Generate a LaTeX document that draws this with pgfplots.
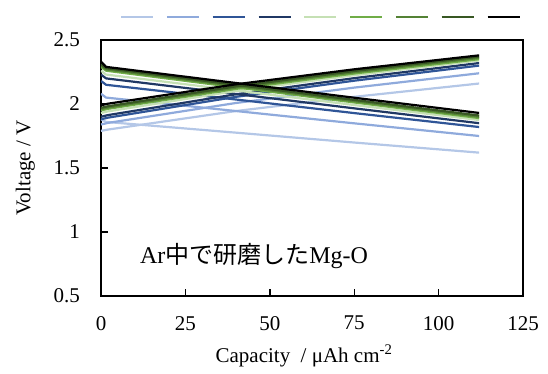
\documentclass[border=0pt]{standalone}
\usepackage{pgfplots}
\pgfplotsset{compat=1.18}
\usepackage{fontspec}
\setmainfont{Liberation Serif}
\newfontfamily\jp{Noto Sans CJK JP}
\definecolor{c1}{HTML}{B4C7E7}
\definecolor{c2}{HTML}{8FAADC}
\definecolor{c3}{HTML}{2F5597}
\definecolor{c4}{HTML}{203864}
\definecolor{c5}{HTML}{C5E0B4}
\definecolor{c6}{HTML}{70AD47}
\definecolor{c7}{HTML}{548235}
\definecolor{c8}{HTML}{385723}
\definecolor{c9}{HTML}{000000}
\begin{document}
\begin{tikzpicture}
\begin{axis}[
  scale only axis,
  width=422pt, height=256pt,
  xmin=0, xmax=125, ymin=0.5, ymax=2.5,
  xtick={0,25,50,75,100,125},
  ytick={0.5,1,1.5,2,2.5},
  tick align=inside,
  xtick pos=bottom, ytick pos=left,
  major tick length=7pt,
  axis line style={black, line width=1.6pt},
  every tick/.style={black, line width=1.4pt},
  /pgf/number format/assume math mode=true,
  tick label style={font=\fontsize{21}{25}\selectfont},
  xticklabel style={inner sep=0pt, anchor=north, yshift=-20pt},
  yticklabel style={inner sep=0pt, anchor=east, xshift=-21pt},
  xlabel={Capacity \ / μAh cm\textsuperscript{-2}},
  ylabel={Voltage / V},
  label style={font=\fontsize{21}{25}\selectfont},
  xlabel style={at={(axis description cs:0.5,0)}, anchor=north, inner sep=0pt, yshift=-49pt, xshift=-8pt},
  ylabel style={at={(axis description cs:0,0.5)}, anchor=south, inner sep=0pt, yshift=66pt},
  legend columns=9,
  legend style={draw=none, fill=none, inner sep=0pt, outer sep=0pt,
    at={(axis description cs:0,1)}, anchor=west, xshift=19pt, yshift=23pt,
    nodes={inner sep=0pt, outer sep=0pt},
    /tikz/every even column/.append style={column sep=10.6pt}},
  legend image code/.code={\draw[#1] (0pt,0pt) -- (32pt,0pt);},
  every axis plot/.append style={line width=2.2pt, line join=round},
]
% cycle 1
\addplot[c1, forget plot] coordinates {(0,1.88)(1.5,1.86)(40,1.776)(75,1.699)(112,1.62)};
\addplot[c1] coordinates {(0,1.79)(2,1.80)(40,1.945)(75,2.056)(112,2.16)};
\addlegendentry{\mbox{}}
% cycle 2
\addplot[c2, forget plot] coordinates {(0,2.08)(1.5,2.05)(40,1.945)(75,1.849)(112,1.75)};
\addplot[c2] coordinates {(0,1.84)(2,1.852)(40,2.008)(75,2.128)(112,2.24)};
\addlegendentry{\mbox{}}
% cycle 3
\addplot[c3, forget plot] coordinates {(0,2.18)(1.5,2.15)(40,2.035)(75,1.929)(112,1.82)};
\addplot[c3] coordinates {(0,1.88)(2,1.893)(40,2.056)(75,2.182)(112,2.30)};
\addlegendentry{\mbox{}}
% cycle 4
\addplot[c4, forget plot] coordinates {(0,2.23)(1.5,2.20)(40,2.078)(75,1.966)(112,1.85)};
\addplot[c4] coordinates {(0,1.90)(2,1.913)(40,2.076)(75,2.202)(112,2.32)};
\addlegendentry{\mbox{}}
% cycle 5
\addplot[c5, forget plot] coordinates {(0,2.26)(1.5,2.23)(40,2.106)(75,1.992)(112,1.875)};
\addplot[c5] coordinates {(0,1.93)(2,1.942)(40,2.102)(75,2.225)(112,2.34)};
\addlegendentry{\mbox{}}
% cycle 6
\addplot[c6, forget plot] coordinates {(0,2.29)(1.5,2.26)(40,2.130)(75,2.012)(112,1.89)};
\addplot[c6] coordinates {(0,1.95)(2,1.962)(40,2.118)(75,2.238)(112,2.35)};
\addlegendentry{\mbox{}}
% cycle 7
\addplot[c7, forget plot] coordinates {(0,2.30)(1.5,2.27)(40,2.140)(75,2.022)(112,1.90)};
\addplot[c7] coordinates {(0,1.96)(2,1.972)(40,2.128)(75,2.248)(112,2.36)};
\addlegendentry{\mbox{}}
% cycle 8
\addplot[c8, forget plot] coordinates {(0,2.31)(1.5,2.28)(40,2.150)(75,2.032)(112,1.91)};
\addplot[c8] coordinates {(0,1.97)(2,1.982)(40,2.138)(75,2.258)(112,2.37)};
\addlegendentry{\mbox{}}
% cycle 9
\addplot[c9, forget plot] coordinates {(0,2.33)(1.5,2.29)(40,2.164)(75,2.049)(112,1.93)};
\addplot[c9] coordinates {(0,1.99)(2,2.002)(40,2.154)(75,2.271)(112,2.38)};
\addlegendentry{\mbox{}}
\node[anchor=west, inner sep=0pt, font=\fontsize{24}{28}\selectfont] at (axis cs:11.5,0.81) {Ar{\jp 中で研磨した}Mg-O};
\coordinate (O) at (rel axis cs:0,0);
\end{axis}
\pgfresetboundingbox
\path (O) ++(-101pt,-78pt) rectangle ++(548pt,374pt);
\end{tikzpicture}
\end{document}
